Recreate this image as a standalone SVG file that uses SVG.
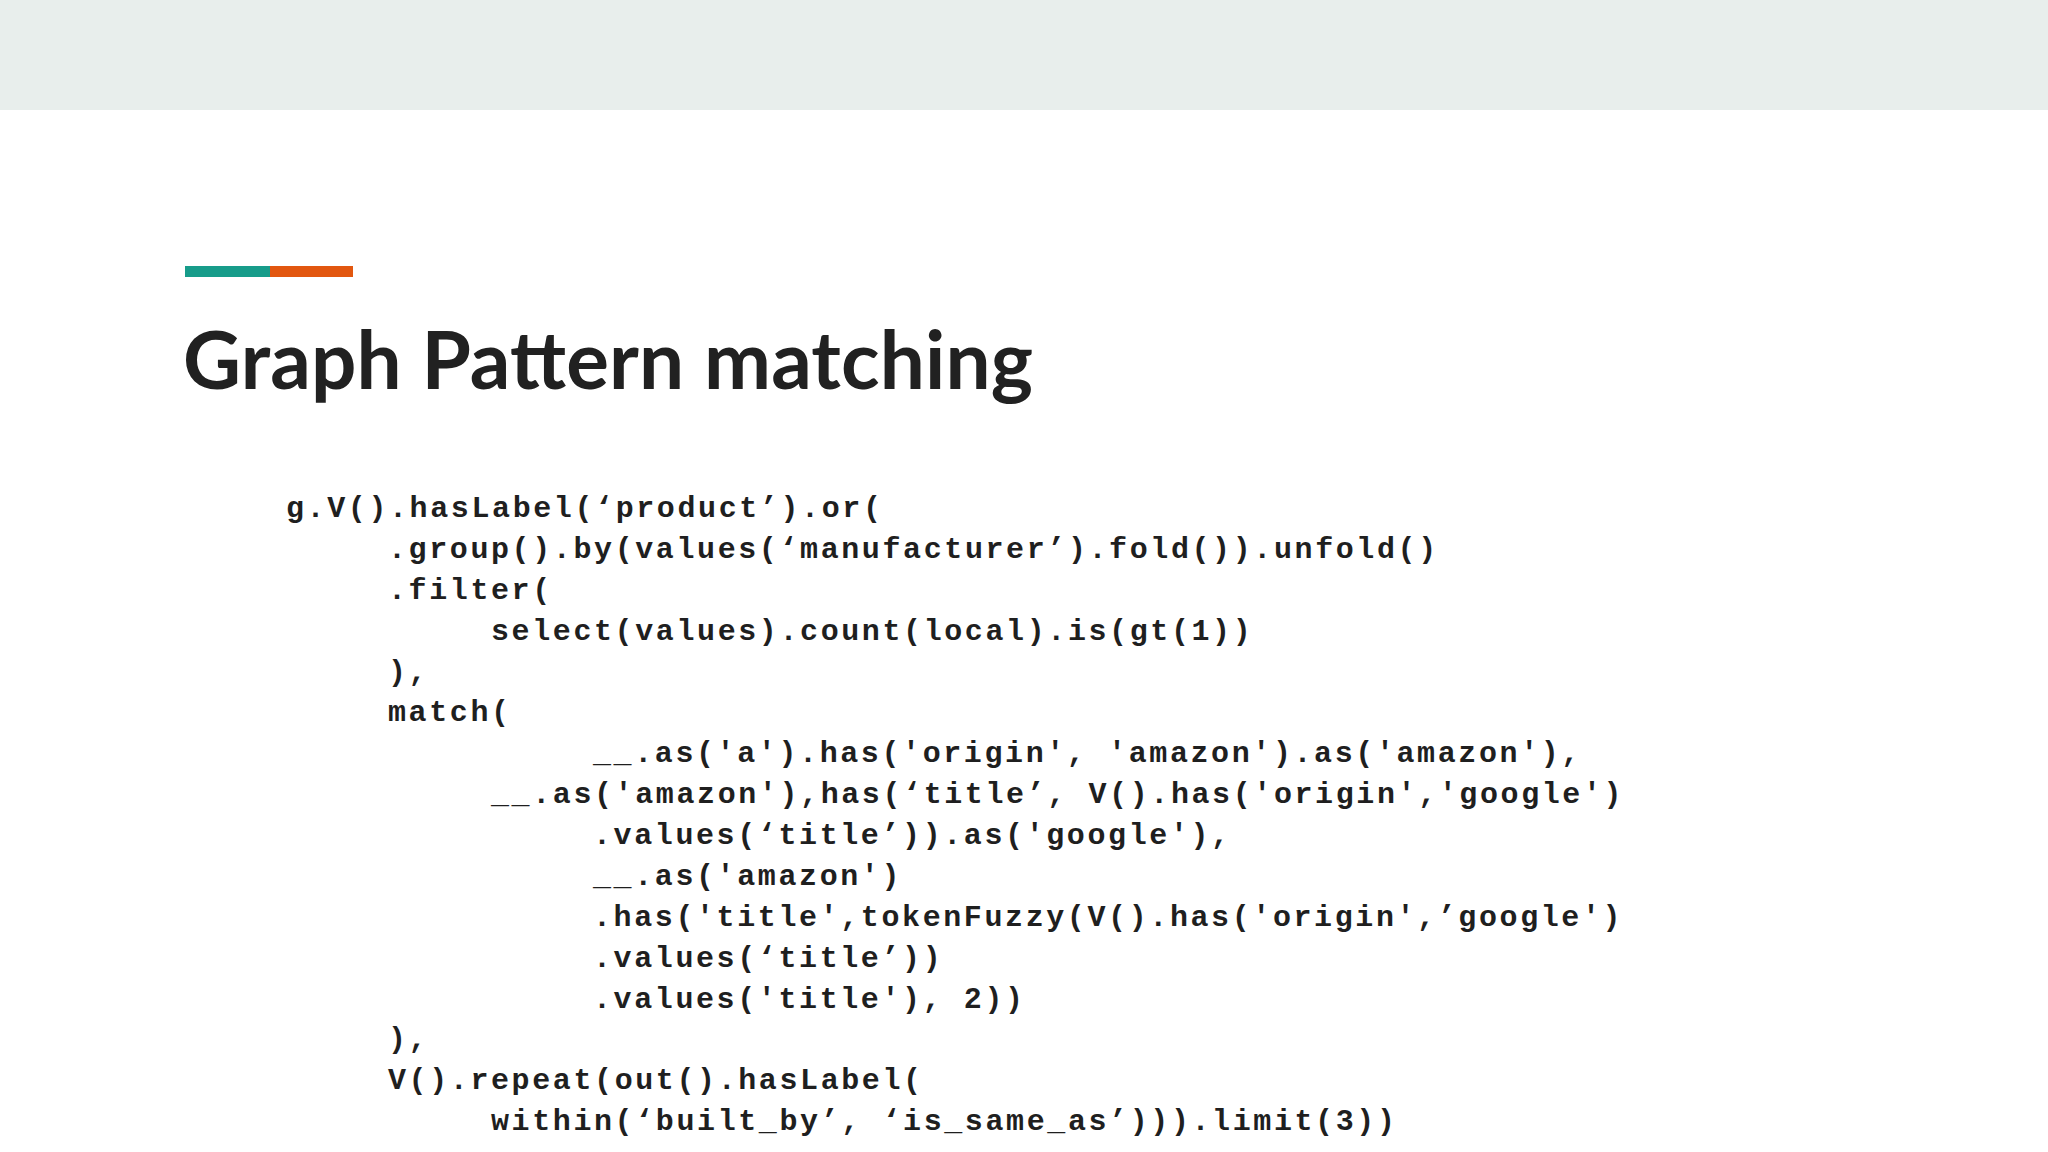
<svg xmlns="http://www.w3.org/2000/svg" width="2048" height="1152" viewBox="0 0 2048 1152">
<style>
.code{font-family:"Liberation Mono",monospace;font-weight:bold;font-size:30px;letter-spacing:2.6px;fill:#1f1f1f;white-space:pre}
.title{font-family:"Lato","Liberation Sans",sans-serif;font-weight:bold;font-size:80px;fill:#212121}
</style>
<rect width="2048" height="1152" fill="#ffffff"/>
<rect width="2048" height="110" fill="#e8eeec"/>
<rect x="185" y="266" width="85" height="11" fill="#179c8a"/>
<rect x="270" y="266" width="83" height="11" fill="#e2570f"/>
<text class="title" x="183" y="389" textLength="850">Graph Pattern matching</text>
<g id="code">
<text class="code" x="286" y="517">g.V().hasLabel(‘product’).or(</text>
<text class="code" x="388" y="558">.group().by(values(‘manufacturer’).fold()).unfold()</text>
<text class="code" x="388" y="599">.filter(</text>
<text class="code" x="491" y="640">select(values).count(local).is(gt(1))</text>
<text class="code" x="388" y="681">),</text>
<text class="code" x="388" y="721">match(</text>
<text class="code" x="593" y="762">__.as('a').has('origin', 'amazon').as('amazon'),</text>
<text class="code" x="491" y="803">__.as('amazon'),has(‘title’, V().has('origin','google')</text>
<text class="code" x="593" y="844">.values(‘title’)).as('google'),</text>
<text class="code" x="593" y="885">__.as('amazon')</text>
<text class="code" x="593" y="926">.has('title',tokenFuzzy(V().has('origin',’google')</text>
<text class="code" x="593" y="967">.values(‘title’))</text>
<text class="code" x="593" y="1008">.values('title'), 2))</text>
<text class="code" x="388" y="1048">),</text>
<text class="code" x="388" y="1089">V().repeat(out().hasLabel(</text>
<text class="code" x="491" y="1130">within(‘built_by’, ‘is_same_as’))).limit(3))</text>
</g>
</svg>
